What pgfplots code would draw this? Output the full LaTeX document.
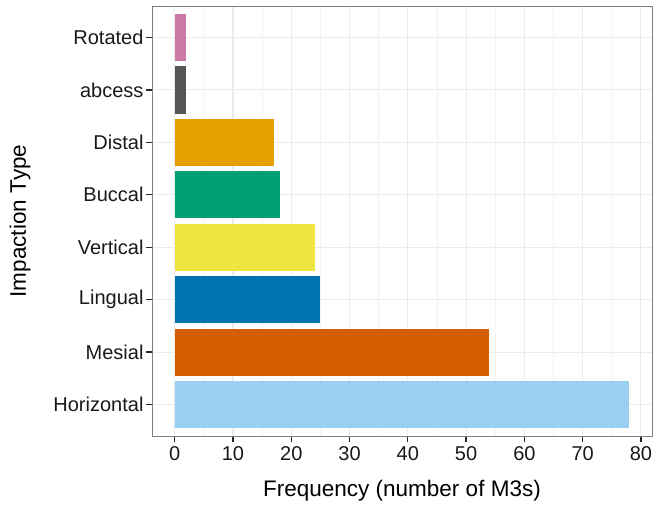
\documentclass[border=0pt]{standalone}
\usepackage{pgfplots}
\pgfplotsset{compat=1.18}
\usepackage{fontspec}
\setmainfont{Liberation Sans}
\definecolor{cRot}{HTML}{CC79A7}
\definecolor{cAbc}{HTML}{555555}
\definecolor{cDis}{HTML}{E69F00}
\definecolor{cBuc}{HTML}{009E73}
\definecolor{cVer}{HTML}{F0E442}
\definecolor{cLin}{HTML}{0072B2}
\definecolor{cMes}{HTML}{D55E00}
\definecolor{cHor}{HTML}{9ACFF3}
\definecolor{gridc}{HTML}{EBEBEB}
\definecolor{frame}{HTML}{7F7F7F}
\begin{document}
\begin{tikzpicture}
\path[use as bounding box] (-152pt,-76pt) rectangle (504pt,436pt);
\begin{axis}[
  at={(0,0)}, anchor=south west,
  scale only axis, width=500pt, height=430pt,
  xmin=-3.9, xmax=81.9, ymin=0.4, ymax=8.6,
  xbar, bar shift=0pt, bar width=0.9,
  xtick={0,10,...,80}, minor xtick={5,15,...,75},
  ytick={1,...,8},
  yticklabels={Horizontal,Mesial,Lingual,Vertical,Buccal,Distal,abcess,Rotated},
  xmajorgrids, ymajorgrids, xminorgrids,
  major grid style={gridc, line width=1.1pt},
  minor grid style={gridc!60!white, line width=0.6pt},
  axis line style={frame, line width=0.8pt},
  tick align=outside,
  major tick length=6pt, minor tick length=0pt,
  tick style={black!85, line width=1.3pt},
  xtick pos=bottom, ytick pos=left,
  ticklabel style={font=\fontsize{20}{24}\selectfont, text=black!90},
  /pgf/number format/assume math mode=true,
  xticklabel style={yshift=-1pt},
  yticklabel style={xshift=1pt},
  xlabel={Frequency (number of M3s)},
  ylabel={Impaction Type},
  label style={font=\fontsize{22.5}{26}\selectfont},
  xlabel style={at={(axis description cs:0.5,-0.128)}, anchor=center},
  ylabel style={at={(axis description cs:-0.264,0.5)}, anchor=center},
]
\addplot[fill=cHor, draw=none] coordinates {(78,1)};
\addplot[fill=cMes, draw=none] coordinates {(54,2)};
\addplot[fill=cLin, draw=none] coordinates {(25,3)};
\addplot[fill=cVer, draw=none] coordinates {(24,4)};
\addplot[fill=cBuc, draw=none] coordinates {(18,5)};
\addplot[fill=cDis, draw=none] coordinates {(17,6)};
\addplot[fill=cAbc, draw=none] coordinates {(2,7)};
\addplot[fill=cRot, draw=none] coordinates {(2,8)};
\end{axis}
\end{tikzpicture}
\end{document}
